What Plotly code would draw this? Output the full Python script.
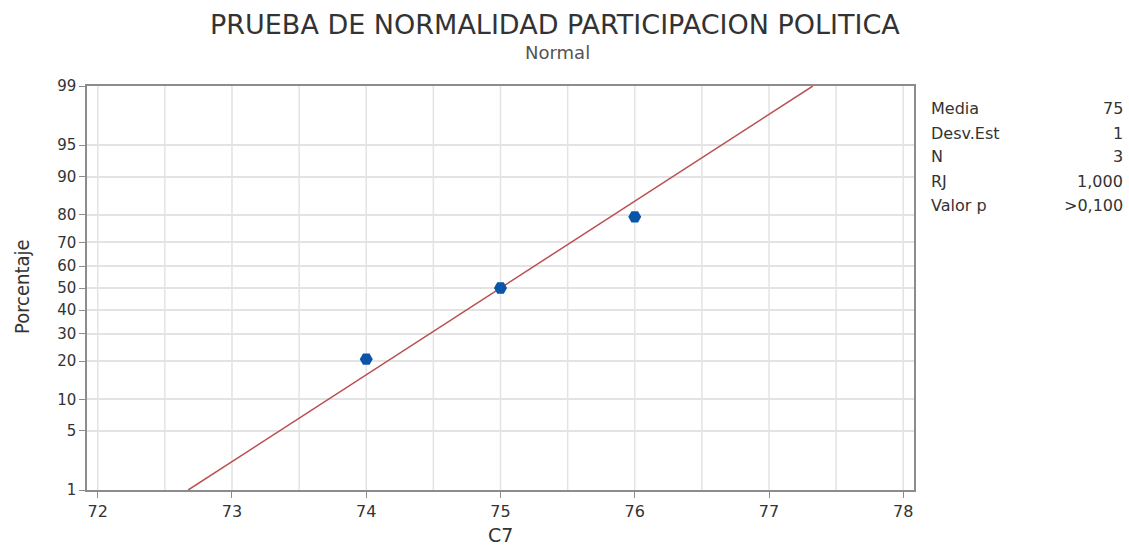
import plotly.graph_objects as go
from statistics import NormalDist

# Data
x_values = [74, 75, 76]
pct_values = [20.6, 50.0, 79.4]
fit_mean = 75
fit_sd = 1
y_tick_pcts = [1, 5, 10, 20, 30, 40, 50, 60, 70, 80, 90, 95, 99]
x_ticks = [72, 73, 74, 75, 76, 77, 78]
stat_labels = ["Media", "Desv.Est", "N", "RJ", "Valor p"]
stat_values = ["75", "1", "3", "1,000", ">0,100"]

nd = NormalDist()
def z(p):
    return nd.inv_cdf(p / 100.0)

y_ticks_z = [z(p) for p in y_tick_pcts]
zmin, zmax = z(1), z(99)

fig = go.Figure()

# fitted line
line_x = [fit_mean + fit_sd * zmin, fit_mean + fit_sd * zmax]
fig.add_trace(go.Scatter(x=line_x, y=[zmin, zmax], mode="lines",
                         line=dict(color="#B9514E", width=1.5), hoverinfo="skip",
                         showlegend=False))
fig.add_trace(go.Scatter(x=x_values, y=[z(p) for p in pct_values], mode="markers",
                         marker=dict(symbol="hexagon2", size=13, color="#0A55A8"),
                         showlegend=False))

font_main = "DejaVu Sans, sans-serif"
txt = "#333333"

L, R, T, B = 87, 914, 86, 490
W, H = 1129, 547

fig.update_layout(
    width=W, height=H,
    paper_bgcolor="white", plot_bgcolor="white",
    margin=dict(l=L, r=W - R, t=T, b=H - B, autoexpand=False),
    font=dict(family=font_main, color=txt, size=15),
    xaxis=dict(range=[71.92, 78.08], tickvals=x_ticks, ticktext=[str(t) for t in x_ticks],
               showgrid=False, zeroline=False, showline=True, linecolor="#8c8c8c", linewidth=1.5,
               mirror=True, ticks="outside", ticklen=6, tickcolor="#8c8c8c",
               tickfont=dict(size=16, color=txt), automargin=False),
    yaxis=dict(range=[zmin, zmax], tickvals=y_ticks_z, ticktext=[str(p) for p in y_tick_pcts],
               showgrid=True, gridcolor="#e3e3e3", gridwidth=1.5, zeroline=False,
               showline=True, linecolor="#8c8c8c", linewidth=1.5, mirror=True,
               ticks="outside", ticklen=6, tickcolor="#8c8c8c",
               tickfont=dict(size=15, color=txt), automargin=False),
)

# vertical grid lines every 0.5
for i in range(13):
    gx = 72 + 0.5 * i
    fig.add_shape(type="line", xref="x", yref="paper", x0=gx, x1=gx, y0=0, y1=1,
                  line=dict(color="#e3e3e3", width=1.5), layer="below")

def py(pix):
    return 1 - (pix - T) / (B - T)

def px(pix):
    return (pix - L) / (R - L)

# Titles
fig.add_annotation(text="PRUEBA DE NORMALIDAD PARTICIPACION POLITICA", xref="paper", yref="paper",
                   x=px(555), y=py(24), showarrow=False, yanchor="middle",
                   font=dict(size=27, color="#333333", family=font_main))
fig.add_annotation(text="Normal", xref="paper", yref="paper", x=px(557), y=py(53),
                   showarrow=False, yanchor="middle",
                   font=dict(size=18, color="#555555", family=font_main))
# axis titles
fig.add_annotation(text="C7", xref="paper", yref="paper", x=px(500), y=py(535),
                   showarrow=False, yanchor="middle",
                   font=dict(size=19, color=txt, family=font_main))
fig.add_annotation(text="Porcentaje", xref="paper", yref="paper", x=px(22), y=py(287),
                   showarrow=False, yanchor="middle", xanchor="center", textangle=-90,
                   font=dict(size=20, color=txt,
                             family="Liberation Sans Narrow, Arial Narrow, DejaVu Sans Condensed, sans-serif"))

# Stats table
row_y = [108, 133, 157, 181, 205]
for lab, val, ry in zip(stat_labels, stat_values, row_y):
    fig.add_annotation(text=lab, xref="paper", yref="paper", x=px(929), y=py(ry),
                       xanchor="left", yanchor="middle", showarrow=False,
                       font=dict(size=16, color=txt, family=font_main))
    fig.add_annotation(text=val, xref="paper", yref="paper", x=px(1125), y=py(ry),
                       xanchor="right", yanchor="middle", showarrow=False,
                       font=dict(size=16, color=txt, family=font_main))

fig.write_html("out.html", config={"displayModeBar": False},
               post_script="document.body.style.margin='0';")
